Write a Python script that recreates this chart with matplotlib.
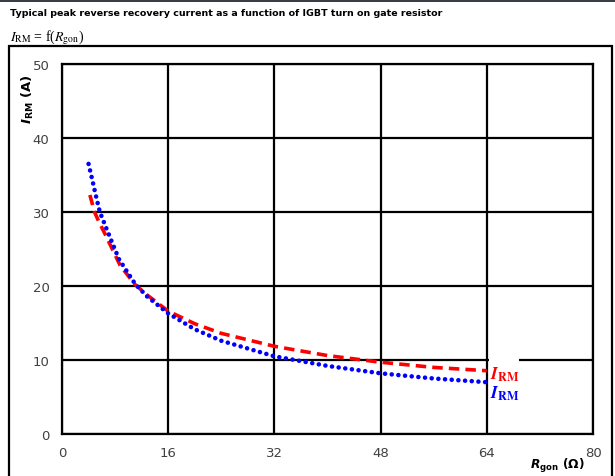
import matplotlib
matplotlib.use("Agg")
import matplotlib.pyplot as plt
from matplotlib.patches import Rectangle

plt.rcParams["mathtext.fontset"] = "dejavusans"

# I_RM vs R_gon, two curves
rg_blue = [4.0, 4.6, 5.0, 5.7, 6.9, 8.6, 11.0, 12.8, 16.0, 20.0, 24.0, 32.0, 40.0, 48.0, 56.0, 64.0]
irm_blue = [36.5, 34.2, 32.6, 30.0, 27.3, 23.6, 20.3, 18.6, 16.3, 14.15, 12.6, 10.5, 9.2, 8.2, 7.5, 7.0]
rg_red = [4.2, 4.9, 5.6, 6.5, 8.75, 11.0, 12.8, 16.0, 20.0, 24.0, 32.0, 40.0, 48.0, 56.0, 64.0]
irm_red = [32.3, 30.0, 28.6, 27.0, 22.8, 20.2, 18.8, 16.6, 14.9, 13.6, 11.85, 10.6, 9.7, 9.0, 8.55]

x_ticks = [0, 16, 32, 48, 64, 80]
y_ticks = [0, 10, 20, 30, 40, 50]

W, H = 615, 477
fig = plt.figure(figsize=(W / 100, H / 100), dpi=100)
ax = fig.add_axes([62 / W, 1 - 435 / H, (593 - 62) / W, (435 - 65) / H])

ax.plot(rg_red, irm_red, color="#ff0000", lw=2.6, linestyle=(0, (2.9, 1.7)),
        solid_capstyle="butt", dash_capstyle="butt", zorder=4)
ax.plot(rg_blue, irm_blue, color="#0000ff", lw=3.3, linestyle=(0, (0.01, 1.45)),
        dash_capstyle="round", zorder=5)

ax.set_xlim(0, 80)
ax.set_ylim(0, 50)
ax.set_xticks(x_ticks)
ax.set_yticks(y_ticks)
ax.tick_params(length=0, labelsize=9.5, labelcolor="#404040", pad=9)
ax.grid(True, color="black", lw=1.6)
ax.set_axisbelow(True)
for s in ax.spines.values():
    s.set_color("black")
    s.set_linewidth(1.6)

# curve labels, white box knocks out the gridline behind them
ax.add_patch(Rectangle((64.3, 9.0), 4.6, 1.8, fc="white", ec="none", zorder=3))
ax.text(64.5, 8.1, r"$\mathbfit{I}_{\mathbf{RM}}$", color="#ff0000", fontsize=12.5,
        family="Liberation Serif", va="center", ha="left", zorder=6,
        math_fontfamily="stix")
ax.text(64.5, 5.6, r"$\mathbfit{I}_{\mathbf{RM}}$", color="#0000ff", fontsize=12.5,
        family="Liberation Serif", va="center", ha="left", zorder=6,
        math_fontfamily="stix")

fig.text(28 / W, 1 - 99 / H, r"$\mathbfit{I}_{\mathbf{RM}}$ (A)", rotation=90,
         fontsize=9.5, fontweight="bold", ha="center", va="center")
fig.text(557 / W, 1 - 466 / H, r"$\mathbfit{R}_{\mathbf{gon}}$ ($\mathbf{\Omega}$)",
         fontsize=8.8, fontweight="bold", ha="center", va="center")

# header
fig.add_artist(Rectangle((0, 1 - 3 / H), 1, 3 / H, transform=fig.transFigure,
                         fc="#3a3f47", ec="none"))
fig.text(10 / W, 1 - 13 / H, "Typical peak reverse recovery current as a function of IGBT turn on gate resistor",
         fontsize=6.8, fontweight="bold", ha="left", va="center")
fig.text(10 / W, 1 - 38 / H, r"$I_{\rm RM}$ = f($R_{\rm gon}$)", fontsize=10,
         family="Liberation Serif", math_fontfamily="stix", ha="left", va="center")

# outer frame
fig.add_artist(Rectangle((9 / W, -0.05), (612 - 9) / W, 1.05 - 47 / H,
                         transform=fig.transFigure, fc="none", ec="black", lw=1.6))

fig.savefig("out.png", dpi=100, facecolor="white")
